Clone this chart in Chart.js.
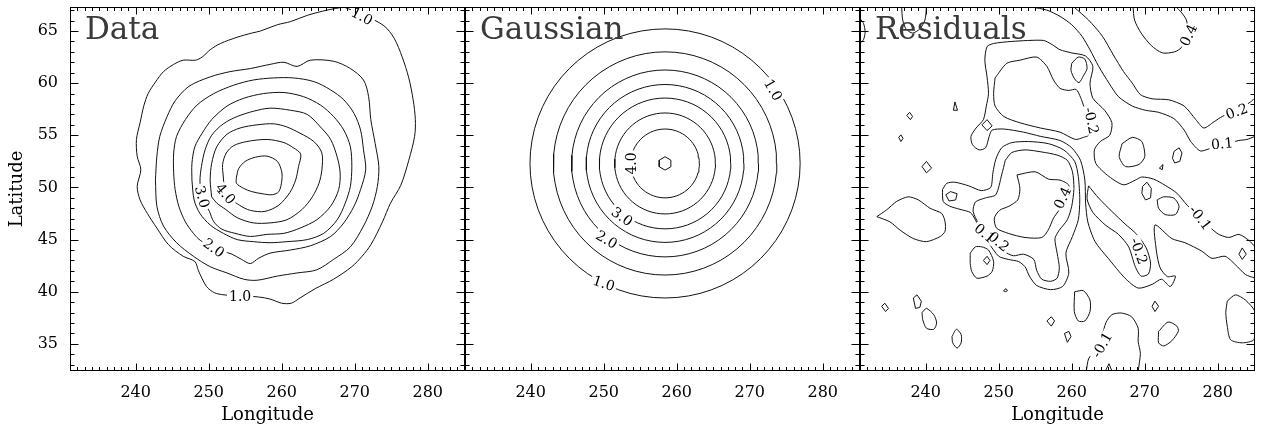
<!DOCTYPE html>
<html lang="en">
<head>
<meta charset="UTF-8" />
<title>Data, Gaussian and Residuals</title>
<script src="https://cdn.jsdelivr.net/npm/chart.js"></script>
<style>
  body { margin: 0; background: #fff; }
  #wrap { position: relative; width: 1265px; height: 434px; }
  canvas { position: absolute; top: 0; }
</style>
</head>
<body>
<div id="wrap">
  <canvas id="dataChart" width="470" height="434" style="left:0"></canvas>
  <canvas id="gaussChart" width="405" height="434" style="left:460px"></canvas>
  <canvas id="residChart" width="405" height="434" style="left:855px"></canvas>
</div>
<script>
// axes
const lonRange = [231, 285.1];
const latRange = [32.4, 67.3];
const lonTicks = [240, 250, 260, 270, 280];
const latTicks = [35, 40, 45, 50, 55, 60, 65];

// ---- Data panel: contour levels 1.0 .. 4.5 (lon, lat) ----
const data10 = [[268.5,67.3],[266.2,67.0],[263.5,66.5],[261.2,65.9],[259.4,65.6],[257.1,65.0],[255.9,64.8],[253.9,64.4],[251.6,63.8],[250.2,63.2],[249.1,62.5],[248.2,62.2],[246.5,62.2],[245.2,61.8],[243.8,61.1],[242.7,60.1],[241.7,59.0],[241.1,57.8],[240.6,56.2],[240.1,54.6],[240.2,53.0],[240.7,51.7],[240.2,50.1],[240.6,48.8],[241.6,47.5],[242.9,46.1],[244.5,44.5],[246.5,43.4],[248.1,42.9],[248.6,42.0],[249.7,40.5],[250.8,39.9],[252.1,39.7],[254.3,39.6],[256.8,39.5],[258.4,39.3],[260.0,38.9],[261.3,38.9],[262.5,39.4],[264.6,40.3],[267.1,41.2],[269.6,42.4],[271.0,43.4],[272.2,44.5],[273.8,46.7],[274.9,48.5],[276.3,50.2],[277.4,52.6],[278.2,54.9],[278.3,56.5],[278.0,58.4],[277.4,60.5],[276.5,62.5],[275.4,64.3],[274.0,65.5],[271.0,66.6],[268.5,67.3]];
const data15 = [[242.7,50.7],[242.9,53.0],[243.3,54.9],[244.3,56.8],[245.4,58.3],[247.3,59.7],[250.2,60.6],[252.9,61.1],[255.7,61.4],[258.4,61.8],[260.3,62.0],[262.1,61.6],[263.9,62.2],[267.1,62.1],[269.4,61.4],[271.2,60.3],[271.9,58.7],[272.2,56.5],[272.8,54.2],[273.3,52.0],[273.1,50.1],[272.4,48.2],[271.2,46.3],[269.4,44.3],[267.1,43.1],[264.8,42.1],[262.1,41.8],[259.4,41.5],[256.6,41.1],[254.8,41.2],[252.5,41.8],[250.2,42.4],[247.9,43.4],[245.6,44.7],[243.8,46.3],[242.9,48.2],[242.7,50.7]];
const data20 = [[253.2,43.6],[254.5,43.1],[255.7,42.7],[256.8,43.2],[258.4,43.7],[261.2,44.0],[263.9,44.4],[266.7,45.3],[268.5,46.6],[269.9,48.2],[270.8,49.8],[271.5,51.7],[271.2,53.6],[270.8,55.5],[269.9,57.1],[268.5,58.4],[266.7,59.35],[264.4,60.15],[261.6,60.5],[258.9,60.5],[256.1,60.3],[253.4,59.8],[250.7,59.0],[248.4,57.9],[246.8,56.5],[245.6,54.9],[245.2,53.3],[245.2,51.4],[245.4,49.8],[245.9,48.2],[246.8,46.7],[247.9,45.6],[248.9,44.9],[250.7,44.2],[253.2,43.6]];
const data25 = [[247.7,50.7],[247.7,52.3],[248.1,53.9],[249.1,55.2],[250.4,56.5],[252.5,57.8],[254.8,58.55],[257.5,59.0],[260.3,59.1],[263.0,58.7],[265.3,57.9],[267.1,56.8],[268.5,55.5],[269.4,53.9],[269.6,52.0],[269.4,50.1],[268.7,48.5],[267.6,46.9],[265.75,45.6],[263.5,45.0],[260.7,44.8],[258.4,44.7],[256.1,44.8],[253.9,45.0],[252.0,45.6],[250.2,46.4],[248.8,47.5],[248.0,48.8],[247.7,50.7]];
const data30 = [[250.1,47.7],[250.7,46.7],[251.8,46.0],[253.6,45.6],[255.7,45.3],[258.0,45.5],[260.3,45.6],[262.5,46.1],[264.8,46.9],[266.7,48.2],[267.8,49.8],[268.0,51.4],[267.6,52.9],[266.7,54.6],[265.3,55.8],[263.5,57.0],[261.2,57.4],[258.4,57.6],[256.1,57.3],[253.9,56.8],[252.0,56.1],[250.4,55.0],[249.5,53.6],[249.0,52.0],[248.8,50.6],[249.1,49.1],[250.1,47.7]];
const data35 = [[250.4,49.1],[250.2,50.7],[250.4,52.3],[251.1,53.9],[252.5,55.1],[254.3,55.7],[256.6,56.0],[258.9,56.1],[260.7,55.8],[262.5,55.2],[264.4,54.4],[265.5,53.3],[265.5,51.7],[265.1,50.4],[264.2,49.1],[262.8,47.9],[260.7,46.9],[258.4,46.6],[256.1,46.6],[253.9,47.1],[252.3,47.9],[251.1,48.5],[250.4,49.1]];
const data40 = [[252.0,51.0],[251.9,52.2],[252.4,53.3],[253.4,54.0],[255.2,54.4],[258.0,54.6],[260.3,54.3],[261.6,53.8],[262.6,53.2],[262.3,52.0],[261.9,50.7],[261.1,49.5],[259.6,48.3],[257.7,47.7],[255.7,47.8],[254.2,48.3],[252.3,49.4],[252.0,51.0]];
const data45 = [[253.8,51.0],[254.1,51.8],[255.0,52.5],[256.4,52.9],[258.0,53.0],[259.4,52.5],[260.0,51.5],[260.0,50.6],[259.6,49.6],[258.7,49.3],[257.3,49.4],[255.9,49.6],[254.8,49.9],[253.8,50.4],[253.8,51.0]];
const dataLabels = [
  { text: '1.0', x: 271.0, y: 66.4, angle: 28 },
  { text: '1.0', x: 254.3, y: 39.6, angle: 0 },
  { text: '2.0', x: 250.7, y: 44.2, angle: 35 },
  { text: '3.0', x: 249.1, y: 49.1, angle: 75 },
  { text: '4.0', x: 252.3, y: 49.4, angle: 50 }
];

// ---- Gaussian panel: centre and contour radii (lon, lat degrees) ----
const gaussCenter = [258.4, 52.3];
const gaussRx = [18.5, 15.3, 12.8, 10.8, 9.0, 6.9, 4.7];
const gaussRy = [12.9, 10.7, 8.96, 7.57, 6.27, 4.84, 3.3];
const gaussPeak = [0.92, 0.64];
const gaussLabels = [
  { text: '1.0', x: 273.2, y: 59.35, angle: 60 },
  { text: '1.0', x: 250.0, y: 40.8, angle: 18 },
  { text: '2.0', x: 250.4, y: 45.0, angle: 30 },
  { text: '3.0', x: 252.5, y: 47.2, angle: 35 },
  { text: '4.0', x: 253.8, y: 52.3, angle: -90 }
];

// ---- Residuals panel ----
const resArcLeft = [[231.0,66.2],[231.5,65.7],[231.7,64.9],[231.5,64.2],[231.0,63.8]];
const resTopU = [[236.7,67.3],[236.85,66.05],[237.3,65.2],[238.2,64.8],[239.2,65.2],[239.9,66.05],[240.1,67.3]];
const resPos01Top = [[254.5,67.3],[256.6,67.0],[258.4,66.4],[260.0,65.6],[261.4,64.5],[262.5,63.2],[263.7,61.6],[265.1,60.0],[266.4,58.7],[268.3,57.8],[270.1,57.4],[271.9,57.2],[274.0,56.6],[275.4,55.5],[276.3,54.4],[277.6,53.5],[278.8,53.7],[280.6,54.1],[282.9,54.5],[284.0,54.6],[285.1,54.9]];
const resPos02Top = [[260.3,67.3],[262.3,66.05],[264.2,64.5],[265.7,62.7],[267.1,61.1],[268.3,60.0],[269.4,58.9],[271.0,58.5],[273.3,58.4],[275.4,57.8],[277.0,56.5],[278.1,55.7],[279.5,56.3],[280.6,56.8],[282.6,57.4],[284.5,58.2],[285.1,58.6]];
const resPos04Top = [[268.4,67.3],[268.6,66.05],[269.5,64.8],[270.9,63.6],[272.4,62.9],[274.1,63.0],[275.0,63.4],[276.0,64.6],[275.7,66.05],[275.0,66.8],[274.3,67.3]];
const resNeg01Band = [[285.1,44.3],[284.3,44.9],[282.9,45.5],[281.5,45.2],[279.9,45.6],[277.6,47.1],[275.8,48.3],[274.4,49.45],[272.8,50.2],[271.2,50.8],[269.6,51.0],[268.7,50.7],[267.1,50.25],[265.1,51.05],[263.3,52.3],[263.1,53.6],[263.9,54.4],[265.2,55.0],[265.5,56.2],[264.5,57.4],[262.9,58.55],[262.5,60.0],[262.9,61.6],[261.9,62.6],[260.0,62.9],[258.4,63.2],[257.3,63.7],[256.1,64.1],[251.8,64.0],[249.3,63.8],[248.4,63.5],[248.1,62.2],[248.4,60.6],[248.6,59.0],[248.3,57.8],[247.9,56.5],[246.9,55.7],[246.2,54.9],[246.4,54.1],[247.3,53.6],[248.2,53.8],[248.7,54.9],[249.1,55.5],[250.7,55.6],[253.4,55.3],[255.7,54.9],[258.4,54.5],[260.0,53.8],[261.2,52.6],[261.8,50.7],[261.9,48.5],[262.2,46.7],[263.2,44.8],[265.0,43.2],[267.3,41.3],[269.1,40.35],[271.0,40.7],[272.3,41.2],[273.5,40.5],[274.2,41.5],[273.1,41.45],[272.1,42.3],[271.6,43.9],[271.4,46.4],[273.7,45.1],[275.5,44.7],[277.8,43.9],[279.2,43.2],[281.0,43.4],[282.4,42.6],[283.8,41.65],[285.1,41.3]];
const resNeg02Top = [[249.5,60.5],[251.1,61.9],[252.9,62.2],[255.2,62.5],[256.6,61.6],[257.5,60.3],[258.4,59.5],[259.6,59.3],[260.6,59.4],[261.2,58.65],[261.7,57.7],[262.5,56.2],[262.3,55.0],[261.6,54.8],[260.5,54.6],[258.4,55.3],[255.7,55.7],[252.9,56.2],[250.7,56.8],[249.5,57.8],[249.3,59.0],[249.5,60.5]];
const resNeg02Tear = [[260.0,61.9],[260.9,62.5],[261.8,62.3],[262.1,61.4],[261.6,60.7],[261.0,60.05],[260.4,60.4],[259.9,61.2],[260.0,61.9]];
const resNeg02Low = [[262.3,50.15],[263.7,48.97],[265.5,47.7],[267.3,46.5],[268.9,45.5],[270.2,44.2],[270.8,42.75],[270.5,41.7],[269.5,41.5],[268.7,42.4],[267.8,44.3],[266.4,45.5],[264.6,46.4],[262.9,47.6],[262.1,48.9],[262.3,50.15]];
const resPos04Blob = [[252.5,51.2],[255.0,51.5],[256.8,50.8],[258.4,50.7],[259.6,50.2],[259.2,48.8],[258.3,47.85],[257.5,47.05],[256.8,45.94],[255.9,45.2],[253.6,45.2],[251.3,45.6],[249.7,46.1],[249.4,47.05],[250.1,47.8],[251.4,48.2],[252.6,48.8],[252.9,49.9],[252.5,51.2]];
const resPos02Blob = [[250.9,52.6],[251.8,53.35],[253.6,53.6],[255.9,53.4],[258.0,53.1],[259.4,52.6],[260.1,51.5],[260.3,49.9],[260.0,48.2],[259.4,46.9],[258.3,45.9],[257.7,45.1],[258.0,43.7],[258.3,42.3],[258.0,41.3],[257.1,41.0],[255.9,41.2],[255.2,42.05],[254.8,43.1],[253.4,43.6],[252.0,43.45],[250.7,43.9],[248.6,45.6],[247.2,46.6],[246.5,47.7],[246.8,48.6],[248.2,49.0],[249.6,49.3],[250.4,51.2],[250.9,52.6]];
const resPos01Blob = [[242.3,49.8],[242.9,50.4],[244.0,50.5],[245.9,50.15],[247.6,49.7],[248.9,50.0],[249.2,51.4],[249.6,52.7],[250.4,53.8],[251.8,54.3],[254.1,54.4],[256.8,54.2],[258.9,53.6],[260.4,52.5],[260.9,51.05],[261.1,48.8],[260.9,46.9],[260.1,45.3],[259.2,43.7],[259.6,41.8],[258.75,40.5],[257.1,40.2],[255.2,40.6],[254.2,41.5],[253.6,42.4],[252.7,42.9],[251.3,43.1],[250.0,43.4],[248.6,44.7],[247.5,45.9],[246.8,46.9],[246.1,47.6],[244.7,47.9],[243.3,48.2],[242.4,48.65],[242.3,49.8]];
const resLeftBlob = [[233.3,47.2],[234.65,47.85],[236.0,48.65],[237.6,49.1],[239.0,48.8],[240.6,48.0],[242.2,47.5],[242.65,46.7],[242.65,45.8],[242.0,45.3],[240.1,44.8],[238.3,45.1],[236.5,45.9],[235.1,46.7],[233.3,47.2]];
const resLoopA = [[246.1,43.7],[246.8,44.3],[247.7,44.3],[248.6,44.0],[249.3,42.9],[249.1,41.95],[248.4,41.5],[247.0,41.3],[246.3,41.95],[246.1,42.7],[246.1,43.7]];
const resLoopB = [[260.4,40.0],[261.6,40.1],[262.5,39.2],[262.5,38.1],[261.8,37.2],[260.9,37.2],[260.35,38.1],[260.4,40.0]];
const resLoopC = [[271.9,36.2],[273.2,37.1],[274.4,36.7],[274.6,36.2],[273.7,35.3],[272.6,34.8],[271.9,35.1],[271.9,36.2]];
const resLoopD = [[281.3,39.1],[282.4,39.7],[283.8,39.2],[285.1,38.1],[285.1,36.8],[284.95,35.4],[283.35,35.1],[281.75,35.4],[281.3,36.7],[281.1,38.0],[281.3,39.1]];
const resLoopE = [[266.9,54.2],[268.3,54.8],[269.6,54.4],[270.0,52.96],[269.2,52.2],[267.35,52.0],[266.5,52.96],[266.9,54.2]];
const resLoopF = [[271.7,48.8],[272.6,49.1],[274.0,48.97],[274.7,48.2],[274.2,47.4],[272.8,47.4],[271.9,48.0],[271.7,48.8]];
const resLoopG = [[239.5,38.0],[240.1,38.4],[241.1,37.8],[241.5,37.0],[241.1,36.4],[240.1,36.5],[239.6,37.3],[239.5,38.0]];
const resLoopH = [[243.6,35.7],[244.2,36.4],[244.85,35.9],[244.85,35.1],[244.3,34.6],[243.7,35.1],[243.6,35.7]];
const resNeg01Low = [[262.0,32.4],[262.3,33.55],[263.2,34.45],[264.1,35.7],[264.7,37.06],[265.5,37.8],[266.8,37.96],[268.2,37.6],[269.1,36.5],[269.1,35.2],[269.4,34.1],[269.1,32.4]];
const resNegV = [[264.6,32.4],[265.1,33.1],[265.5,32.4]];
const resSmall = [
  [[242.75,49.3],[243.4,49.6],[244.3,49.4],[244.1,48.8],[243.2,48.7],[242.75,49.3]],
  [[243.8,57.4],[244.0,58.2],[244.35,57.4],[243.8,57.4]],
  [[237.4,56.9],[237.8,57.2],[238.2,56.8],[237.9,56.5],[237.4,56.9]],
  [[236.3,54.8],[236.6,55.04],[236.9,54.7],[236.6,54.4],[236.3,54.8]],
  [[239.5,52.0],[240.1,52.5],[240.8,51.85],[240.1,51.4],[239.5,52.0]],
  [[247.7,56.0],[248.4,56.5],[249.1,55.9],[248.4,55.45],[247.7,56.0]],
  [[233.97,38.6],[234.4,38.9],[234.9,38.4],[234.5,38.1],[233.97,38.6]],
  [[238.3,39.4],[238.8,39.7],[239.4,39.1],[239.2,38.5],[238.6,38.4],[238.3,39.4]],
  [[250.65,40.1],[251.0,40.3],[251.2,40.1],[250.9,40.0],[250.65,40.1]],
  [[256.6,37.2],[257.2,37.6],[257.65,37.2],[257.2,36.7],[256.6,37.2]],
  [[259.0,36.0],[259.6,36.2],[259.9,35.7],[259.4,35.15],[259.0,36.0]],
  [[247.9,43.0],[248.4,43.4],[248.8,43.0],[248.4,42.6],[247.9,43.0]],
  [[271.0,38.6],[271.4,39.1],[271.9,38.6],[271.4,38.1],[271.0,38.6]],
  [[282.9,43.6],[283.35,44.2],[283.9,43.6],[283.35,43.1],[282.9,43.6]],
  [[274.0,53.45],[274.7,53.8],[275.1,53.3],[274.8,52.5],[274.1,52.35],[273.8,52.8],[274.0,53.45]],
  [[272.0,51.85],[272.5,52.2],[272.4,51.7],[272.0,51.85]],
  [[269.7,50.1],[270.3,50.5],[270.9,49.9],[270.8,49.0],[270.1,48.8],[269.6,49.45],[269.7,50.1]]
];
const resLabels = [
  { text: '0.4', x: 276.0, y: 64.6, angle: -65 },
  { text: '0.2', x: 282.6, y: 57.3, angle: -20 },
  { text: '0.1', x: 280.6, y: 54.2, angle: -5 },
  { text: '-0.2', x: 262.7, y: 56.4, angle: 78 },
  { text: '0.4', x: 258.75, y: 49.0, angle: -65 },
  { text: '-0.1', x: 277.6, y: 47.1, angle: 52 },
  { text: '0.1', x: 248.1, y: 45.6, angle: 40 },
  { text: '0.2', x: 250.0, y: 44.8, angle: 40 },
  { text: '-0.2', x: 269.2, y: 43.9, angle: 70 },
  { text: '-0.1', x: 264.15, y: 34.9, angle: -60 }
];

const FONT = '"DejaVu Serif"';
const INK = '#111';

function contour(points, tension) {
  return {
    data: points.map(p => ({ x: p[0], y: p[1] })),
    showLine: true, borderColor: INK, borderWidth: 1,
    pointRadius: 0, tension: tension, fill: false
  };
}

function ellipse(cx, cy, rx, ry, n, phase) {
  const pts = [];
  for (let i = 0; i <= n; i++) {
    const t = phase + 2 * Math.PI * i / n;
    pts.push([cx + rx * Math.cos(t), cy + ry * Math.sin(t)]);
  }
  return pts;
}

// frame, inward ticks, contour labels and the panel title
const panelPlugin = {
  id: 'panel',
  afterDatasetsDraw(chart, args, opts) {
    const { ctx, chartArea: a, scales: { x, y } } = chart;
    ctx.save();

    ctx.font = '14px ' + FONT;
    ctx.textAlign = 'center';
    ctx.textBaseline = 'middle';
    const items = (opts.labels || []).map(l => ({
      text: l.text, rad: l.angle * Math.PI / 180,
      px: x.getPixelForValue(l.x), py: y.getPixelForValue(l.y)
    }));
    items.forEach(l => {
      const w = ctx.measureText(l.text).width;
      ctx.save();
      ctx.translate(l.px, l.py);
      ctx.rotate(l.rad);
      ctx.fillStyle = '#fff';
      ctx.fillRect(-w / 2 - 2, -6, w + 4, 12);
      ctx.restore();
    });
    items.forEach(l => {
      ctx.save();
      ctx.translate(l.px, l.py);
      ctx.rotate(l.rad);
      ctx.fillStyle = '#000';
      ctx.fillText(l.text, 0, 1);
      ctx.restore();
    });

    ctx.strokeStyle = '#000';
    ctx.lineWidth = 1;
    const L = Math.round(a.left) + 0.5, R = Math.round(a.right) - 0.5;
    const T = Math.round(a.top) + 0.5, B = Math.round(a.bottom) - 0.5;
    ctx.strokeRect(L, T, R - L, B - T);
    ctx.beginPath();
    for (let v = Math.ceil(x.min); v <= x.max; v++) {
      const px = Math.round(x.getPixelForValue(v)) + 0.5;
      const len = lonTicks.includes(v) ? 7 : 3.5;
      ctx.moveTo(px, B); ctx.lineTo(px, B - len);
      ctx.moveTo(px, T); ctx.lineTo(px, T + len);
    }
    for (let v = Math.ceil(y.min); v <= y.max; v++) {
      const py = Math.round(y.getPixelForValue(v)) + 0.5;
      const len = latTicks.includes(v) ? 8 : 4;
      ctx.moveTo(L, py); ctx.lineTo(L + len, py);
      ctx.moveTo(R, py); ctx.lineTo(R - len, py);
    }
    ctx.stroke();

    ctx.font = '31px ' + FONT;
    ctx.fillStyle = '#3a3a3a';
    ctx.textAlign = 'left';
    ctx.textBaseline = 'alphabetic';
    ctx.fillText(opts.title, a.left + 15, a.top + 32);
    ctx.restore();
  }
};

function makeScales(showY, showXTitle) {
  const tickFont = { family: FONT, size: 16 };
  const titleFont = { family: FONT, size: 18 };
  return {
    x: {
      type: 'linear', min: lonRange[0], max: lonRange[1],
      grid: { display: false, drawTicks: false },
      border: { display: false },
      afterBuildTicks: s => { s.ticks = lonTicks.map(v => ({ value: v })); },
      afterFit: s => { s.height = 63; s.paddingLeft = 0; s.paddingRight = 0; },
      ticks: { font: tickFont, color: '#000', padding: 12, maxRotation: 0, autoSkip: false },
      title: { display: showXTitle, text: 'Longitude', font: titleFont, color: '#000', padding: { top: 0, bottom: 8 } }
    },
    y: {
      type: 'linear', min: latRange[0], max: latRange[1], display: showY,
      grid: { display: false, drawTicks: false },
      border: { display: false },
      afterBuildTicks: s => { s.ticks = latTicks.map(v => ({ value: v })); },
      afterFit: s => { s.width = showY ? 70 : 0; s.paddingTop = 0; s.paddingBottom = 0; },
      ticks: { font: tickFont, color: '#000', padding: 12, autoSkip: false },
      title: { display: true, text: 'Latitude', font: titleFont, color: '#000', padding: { top: 7, bottom: 0 } }
    }
  };
}

function makePanel(id, title, labels, datasets, showY, showXTitle) {
  new Chart(document.getElementById(id), {
    type: 'scatter',
    data: { datasets: datasets },
    options: {
      responsive: false, animation: false, events: [],
      layout: { padding: { top: 7, left: showY ? 0 : 5, right: 5, bottom: 0 } },
      plugins: {
        legend: { display: false }, tooltip: { enabled: false },
        panel: { title: title, labels: labels }
      },
      scales: makeScales(showY, showXTitle)
    },
    plugins: [panelPlugin]
  });
}

// Data
makePanel('dataChart', 'Data', dataLabels,
  [data10, data15, data20, data25, data30, data35, data40, data45].map(c => contour(c, 0.3)),
  true, true);

// Gaussian
const gaussSets = gaussRx.map((rx, i) => contour(ellipse(gaussCenter[0], gaussCenter[1], rx, gaussRy[i], 72, 0), 0));
gaussSets.push(contour(ellipse(gaussCenter[0], gaussCenter[1], gaussPeak[0], gaussPeak[1], 6, Math.PI / 2), 0));
makePanel('gaussChart', 'Gaussian', gaussLabels, gaussSets, false, false);

// Residuals
const resSmooth = [resArcLeft, resTopU, resPos01Top, resPos02Top, resPos04Top, resNeg01Band, resNeg02Top,
  resNeg02Tear, resNeg02Low, resPos04Blob, resPos02Blob, resPos01Blob, resLeftBlob, resLoopA, resLoopB,
  resLoopC, resLoopD, resLoopE, resLoopF, resLoopG, resLoopH, resNeg01Low];
const resSets = resSmooth.map(c => contour(c, 0.25))
  .concat([resNegV].concat(resSmall).map(c => contour(c, 0)));
makePanel('residChart', 'Residuals', resLabels, resSets, false, true);
</script>
</body>
</html>
